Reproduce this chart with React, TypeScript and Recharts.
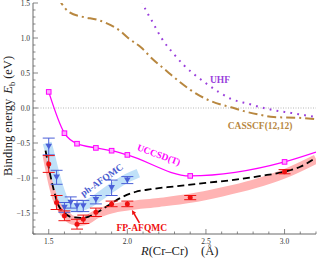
import React from 'react';
import { ComposedChart, Line, Scatter, XAxis, YAxis, ErrorBar, ReferenceLine, ReferenceDot } from 'recharts';

const FONT = "'Liberation Serif', 'Times New Roman', serif";
const AX = '#6a6a6a';

// Tick values (every 0.1)
const xTicks = [1.4, 1.5, 1.6, 1.7, 1.8, 1.9, 2.0, 2.1, 2.2, 2.3, 2.4, 2.5, 2.6, 2.7, 2.8, 2.9, 3.0, 3.1, 3.2];
const yTicks = [-1.8, -1.7, -1.6, -1.5, -1.4, -1.3, -1.2, -1.1, -1.0, -0.9, -0.8, -0.7, -0.6, -0.5, -0.4, -0.3, -0.2, -0.1, 0,
  0.1, 0.2, 0.3, 0.4, 0.5, 0.6, 0.7, 0.8, 0.9, 1.0, 1.1, 1.2, 1.3, 1.4, 1.5];

// UHF (dotted)
const uhfX = [2.08, 2.10, 2.16, 2.22, 2.30, 2.36, 2.42, 2.49, 2.58, 2.66, 2.77, 2.85, 2.93, 3.04, 3.20];
const uhfY = [1.62, 1.49, 1.23, 0.99, 0.76, 0.61, 0.49, 0.37, 0.23, 0.13, 0.06, 0.01, -0.03, -0.07, -0.13];

// CASSCF(12,12) (dash-dot)
const casX = [1.56, 1.58, 1.63, 1.72, 1.81, 1.87, 1.96, 2.00, 2.09, 2.16, 2.25, 2.34, 2.40, 2.50, 2.61, 2.66, 2.75, 2.85, 2.93, 3.09, 3.20];
const casY = [1.58, 1.50, 1.37, 1.30, 1.26, 1.21, 1.09, 1.01, 0.86, 0.70, 0.53, 0.36, 0.26, 0.13, 0.04, 0.01, -0.05, -0.10, -0.13, -0.14, -0.16];

// UCCSD(T)
const ccX = [1.5, 1.6, 1.68, 1.8, 1.9, 2.0, 2.4, 3.0];
const ccY = [0.23, -0.36, -0.51, -0.57, -0.61, -0.67, -0.97, -0.77];
const ccTail = { x: 3.2, y: -0.63 };

// Black dashed reference curve
const refX = [1.48, 1.52, 1.56, 1.6, 1.65, 1.72, 1.8, 1.88, 1.96, 2.05, 2.15, 2.3, 2.5, 2.7, 2.85, 3.0, 3.1, 3.2];
const refY = [-0.61, -1.06, -1.38, -1.50, -1.56, -1.57, -1.50, -1.39, -1.28, -1.20, -1.16, -1.12, -1.07, -1.02, -0.97, -0.91, -0.84, -0.71];

// FP-AFQMC points
const fpX = [1.5, 1.55, 1.6, 1.68, 1.72, 1.8, 1.9, 2.0, 2.4, 3.0];
const fpY = [-0.80, -1.35, -1.54, -1.66, -1.59, -1.49, -1.37, -1.37, -1.28, -0.91];
const fpE = [0.12, 0.10, 0.07, 0.07, 0.06, 0.06, 0.04, 0.04, 0.03, 0.03];
// FP-AFQMC band
const fpBandX = [1.49, 1.5, 1.55, 1.6, 1.65, 1.7, 1.75, 1.8, 1.9, 2.0, 2.2, 2.4, 2.6, 2.8, 3.0, 3.2];
const fpBandY = [-0.68, -0.80, -1.28, -1.50, -1.60, -1.62, -1.59, -1.52, -1.44, -1.40, -1.35, -1.29, -1.20, -1.09, -0.94, -0.73];

// ph-AFQMC points
const phX = [1.5, 1.55, 1.6, 1.64, 1.68, 1.72, 1.8, 1.9, 2.0];
const phY = [-0.55, -0.99, -1.42, -1.35, -1.40, -1.40, -1.31, -1.14, -1.03];
const phE = [0.12, 0.10, 0.07, 0.08, 0.08, 0.08, 0.06, 0.11, 0.05];
// ph-AFQMC band
const phBandX = [1.49, 1.5, 1.55, 1.6, 1.65, 1.7, 1.75, 1.8, 1.9, 2.0, 2.07];
const phBandY = [-0.50, -0.58, -1.02, -1.33, -1.42, -1.41, -1.37, -1.30, -1.14, -1.00, -0.93];

// Annotations
const labels = [
  { x: 2.589, y: 0.40, text: 'UHF', color: '#9a3fdc', angle: 0 },
  { x: 2.844, y: -0.257, text: 'CASSCF(12,12)', color: '#b8873f', angle: 0 },
  { x: 2.20, y: -0.67, text: 'UCCSD(T)', color: '#ff00ff', angle: 20 },
  { x: 1.838, y: -1.03, text: 'ph-AFQMC', color: '#4a5cd0', angle: -35 },
  { x: 2.092, y: -1.714, text: 'FP-AFQMC', color: '#ee1111', angle: 0 },
];
const arrowTip = { x: 2.029, y: -1.457 };

const zip = (xs: number[], ys: number[]) => xs.map((x, i) => ({ x, y: ys[i] }));
const uhf = zip(uhfX, uhfY);
const cas = zip(casX, casY);
const cc = zip(ccX, ccY);
const ccLine = [...cc, ccTail];
const ref = zip(refX, refY);
const fp = fpX.map((x, i) => ({ x, y: fpY[i], e: fpE[i] }));
const fpBand = zip(fpBandX, fpBandY);
const ph = phX.map((x, i) => ({ x, y: phY[i], e: phE[i] }));
const phBand = zip(phBandX, phBandY);

const isMajor = (v: number) => Math.abs(v * 2 - Math.round(v * 2)) < 1e-6;
const fmtY = (v: number) => (Math.abs(v) < 1e-9 ? '0.0' : (v < 0 ? '\u2212' : '') + Math.abs(v).toFixed(1));

const BottomTick = (p: any) => {
  const { x, y, payload } = p;
  const v = payload.value;
  const M = isMajor(v);
  return (
    <g>
      <line x1={x} x2={x} y1={y} y2={y - (M ? 5 : 2.5)} stroke={AX} strokeWidth={0.8} />
      {M && (
        <text x={x} y={y + 9.5} textAnchor="middle" fontSize={7.5} fontFamily={FONT} fill="#333">
          {v.toFixed(1)}
        </text>
      )}
    </g>
  );
};
const TopTick = (p: any) => {
  const { x, y, payload } = p;
  const M = isMajor(payload.value);
  return <line x1={x} x2={x} y1={y} y2={y + (M ? 5 : 2.5)} stroke={AX} strokeWidth={0.8} />;
};
const LeftTick = (p: any) => {
  const { x, y, payload } = p;
  const v = payload.value;
  const M = isMajor(v);
  return (
    <g>
      <line x1={x} x2={x + (M ? 5 : 2.5)} y1={y} y2={y} stroke={AX} strokeWidth={0.8} />
      {M && (
        <text x={x - 3} y={y + 2.6} textAnchor="end" fontSize={7.5} fontFamily={FONT} fill="#333">
          {fmtY(v)}
        </text>
      )}
    </g>
  );
};
const RightTick = (p: any) => {
  const { x, y, payload } = p;
  const M = isMajor(payload.value);
  return <line x1={x} x2={x - (M ? 5 : 2.5)} y1={y} y2={y} stroke={AX} strokeWidth={0.8} />;
};

const circle = (color: string) => (p: any) => <circle cx={p.cx} cy={p.cy} r={2.5} fill={color} />;
const triDown = (color: string) => (p: any) => (
  <path d={`M${p.cx - 3.3},${p.cy - 2.7} L${p.cx + 3.3},${p.cy - 2.7} L${p.cx},${p.cy + 3.1} Z`} fill={color} />
);
const square = (p: any) => (
  <rect x={p.cx - 2.3} y={p.cy - 2.3} width={4.6} height={4.6} fill="#ffaaff" stroke="#ff00ff" strokeWidth={1} />
);

const AX_IDS = { xAxisId: 'b', yAxisId: 'l' };

export default function App() {
  return (
    <div style={{ position: 'absolute', left: 0, top: 0, width: 317, height: 259, background: '#fff' }}>
      <ComposedChart width={317} height={259} margin={{ top: 3, right: 1, bottom: 0, left: 0 }}>
        <XAxis xAxisId="b" type="number" dataKey="x" domain={[1.4, 3.2]} ticks={xTicks} interval={0}
          allowDataOverflow tickSize={0} tickMargin={0} tick={BottomTick} height={25} axisLine={{ stroke: AX }} />
        <XAxis xAxisId="t" orientation="top" type="number" dataKey="x" domain={[1.4, 3.2]} ticks={xTicks} interval={0}
          allowDataOverflow tickSize={0} tickMargin={0} tick={TopTick} height={0} axisLine={{ stroke: AX }} />
        <YAxis yAxisId="l" type="number" dataKey="y" domain={[-1.8, 1.5]} ticks={yTicks} interval={0}
          allowDataOverflow tickSize={0} tickMargin={0} tick={LeftTick} width={33} axisLine={{ stroke: AX }} />
        <YAxis yAxisId="r" orientation="right" type="number" dataKey="y" domain={[-1.8, 1.5]} ticks={yTicks} interval={0}
          allowDataOverflow tickSize={0} tickMargin={0} tick={RightTick} width={0} axisLine={{ stroke: AX }} />

        <ReferenceLine {...AX_IDS} y={0} stroke="#9a9a9a" strokeWidth={0.7} strokeDasharray="1 1.5" />

        <Line {...AX_IDS} data={fpBand} dataKey="y" type="monotone" stroke="#ffb3b3" strokeWidth={9} dot={false} isAnimationActive={false} />
        <Line {...AX_IDS} data={phBand} dataKey="y" type="monotone" stroke="#c0e1f8" strokeWidth={9} dot={false} isAnimationActive={false} />
        <Line {...AX_IDS} data={ref} dataKey="y" type="monotone" stroke="#000" strokeWidth={1.8} strokeDasharray="7 4" dot={false} isAnimationActive={false} />
        <Line {...AX_IDS} data={ccLine} dataKey="y" type="monotone" stroke="#ff00ff" strokeWidth={1.3} dot={false} isAnimationActive={false} />
        <Line {...AX_IDS} data={cas} dataKey="y" type="monotone" stroke="#b8873f" strokeWidth={2} strokeDasharray="9 4 2 4" dot={false} isAnimationActive={false} />
        <Line {...AX_IDS} data={uhf} dataKey="y" type="monotone" stroke="#9a3fdc" strokeWidth={2} strokeDasharray="1.8 5.2" dot={false} isAnimationActive={false} />

        <Scatter {...AX_IDS} data={cc} dataKey="y" shape={square} isAnimationActive={false} />
        <Scatter {...AX_IDS} data={ph} dataKey="y" shape={triDown('#4a5fd8')} isAnimationActive={false}>
          <ErrorBar dataKey="e" direction="y" width={6} stroke="#4a5fd8" strokeWidth={1} />
        </Scatter>
        <Scatter {...AX_IDS} data={fp} dataKey="y" shape={circle('#ee1111')} isAnimationActive={false}>
          <ErrorBar dataKey="e" direction="y" width={6} stroke="#ee1111" strokeWidth={1} />
        </Scatter>

        {labels.map((l) => (
          <ReferenceDot key={l.text} {...AX_IDS} x={l.x} y={l.y} r={1}
            shape={(p: any) => (
              <text x={p.cx} y={p.cy} textAnchor="middle" dominantBaseline="central" fontSize={9.5} fontWeight="bold"
                fontFamily={FONT} fill={l.color} transform={`rotate(${l.angle} ${p.cx} ${p.cy})`}>
                {l.text}
              </text>
            )} />
        ))}
        <ReferenceDot {...AX_IDS} x={arrowTip.x} y={arrowTip.y} r={1}
          shape={(p: any) => (
            <g>
              <line x1={p.cx + 7.5} y1={p.cy + 12.8} x2={p.cx + 2} y2={p.cy + 3.4} stroke="#ee1111" strokeWidth={1.6} />
              <path d={`M${p.cx},${p.cy} L${p.cx + 4.2},${p.cy + 2.8} L${p.cx + 0.4},${p.cy + 5}Z`} fill="#ee1111" />
            </g>
          )} />
      </ComposedChart>
      <svg width={317} height={259} style={{ position: 'absolute', left: 0, top: 0, pointerEvents: 'none' }}>
        <text transform="translate(12 116) rotate(-90)" textAnchor="middle" fontSize={12.5} fontFamily={FONT} fill="#222">
          <tspan>Binding energy </tspan>
          <tspan fontStyle="italic" dx={2}>E</tspan>
          <tspan fontSize={8.5} dy={2.5}>b</tspan>
          <tspan dy={-2.5} dx={3}>(eV)</tspan>
        </text>
        <text x={141} y={255} textAnchor="start" fontSize={12.5} fontFamily={FONT} fill="#222">
          <tspan fontStyle="italic">R</tspan>
          <tspan>(Cr–Cr)</tspan>
          <tspan x={201}>(Å)</tspan>
        </text>
      </svg>
    </div>
  );
}
